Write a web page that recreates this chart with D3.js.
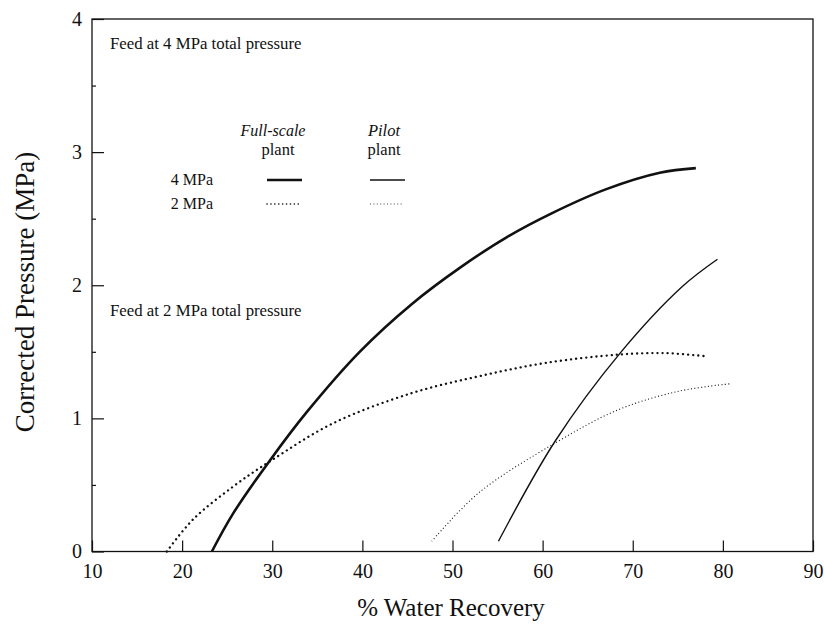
<!DOCTYPE html>
<html>
<head>
<meta charset="utf-8">
<script src="https://cdn.jsdelivr.net/npm/d3@7"></script>
<style>
  body { margin: 0; background: #fff; }
  svg text { font-family: "Liberation Serif", "Times New Roman", serif; fill: #111; }
</style>
</head>
<body>
<div class="chart_area"></div>
<script>
// values (x = % water recovery, y = corrected pressure MPa)
var full4_x = [23.3, 25.7, 29.8, 33.8, 39.7, 45.5, 51.0, 56.0, 61.0, 67.0, 73.0, 77.0];
var full4_y = [0, 0.29, 0.69, 1.045, 1.50, 1.86, 2.14, 2.36, 2.54, 2.72, 2.845, 2.88];

var full2_x = [18.3, 21.2, 25.7, 29.8, 36.8, 45.5, 52.9, 60.3, 68.4, 73.6, 78.2];
var full2_y = [0, 0.24, 0.49, 0.68, 0.965, 1.19, 1.316, 1.416, 1.479, 1.49, 1.466];

var pilot4_x = [55.1, 61.4, 68.6, 75.5, 79.4];
var pilot4_y = [0.077, 0.83, 1.49, 1.99, 2.195];

var pilot2_x = [47.7, 52.9, 61.4, 68.4, 75.1, 80.8];
var pilot2_y = [0.077, 0.44, 0.815, 1.065, 1.204, 1.26];

var x_ticks = [10, 20, 30, 40, 50, 60, 70, 80, 90];
var y_ticks = [0, 1, 2, 3, 4];
var y_minor = [0.5, 1.5, 2.5, 3.5];

var margin = {top: 19, right: 10, bottom: 74.5, left: 92},
    width = 824 - margin.left - margin.right,
    height = 626 - margin.top - margin.bottom;

var svg = d3.select(".chart_area")
  .append("svg")
  .attr("width", 824)
  .attr("height", 626)
  .append("g")
  .attr("transform", "translate(" + margin.left + "," + margin.top + ")");

var x = d3.scaleLinear().domain([10, 90]).range([0, 721]);
var y = d3.scaleLinear().domain([0, 4]).range([height, 0]);

// frame
svg.append("rect")
  .attr("x", 0).attr("y", 0)
  .attr("width", x(90)).attr("height", height)
  .attr("fill", "none").attr("stroke", "#111").attr("stroke-width", 1.3);

var xAxis = svg.append("g")
  .attr("transform", "translate(0," + height + ")")
  .call(d3.axisBottom(x).tickValues(x_ticks).tickSizeInner(-11).tickSizeOuter(0).tickPadding(12));

var yAxis = svg.append("g")
  .call(d3.axisLeft(y).tickValues(y_ticks).tickSizeInner(-12).tickSizeOuter(0).tickPadding(10).tickFormat(d3.format("d")));

var yMinor = svg.append("g")
  .call(d3.axisLeft(y).tickValues(y_minor).tickSizeInner(-4).tickSizeOuter(0).tickFormat(""));

[xAxis, yAxis, yMinor].forEach(function(a) {
  a.select(".domain").remove();
  a.selectAll("line").attr("stroke", "#111").attr("stroke-width", 1.2);
  a.selectAll("text").attr("font-size", 20).attr("font-family", "Liberation Serif").attr("fill", "#111");
});

// axis titles
svg.append("text")
  .attr("x", 451 - margin.left).attr("y", 616 - margin.top)
  .attr("text-anchor", "middle").attr("font-size", 25)
  .text("% Water Recovery");

svg.append("text")
  .attr("transform", "translate(" + (34 - margin.left) + "," + (292 - margin.top) + ") rotate(-90)")
  .attr("text-anchor", "middle").attr("font-size", 27)
  .text("Corrected Pressure (MPa)");

// curves
var line = d3.line()
  .x(function(d) { return x(d[0]); })
  .y(function(d) { return y(d[1]); })
  .curve(d3.curveCatmullRom.alpha(0.5));

var series = [
  {xs: full4_x, ys: full4_y, w: 2.6, dash: null, cap: "butt"},
  {xs: full2_x, ys: full2_y, w: 2.3, dash: "0.1 5", cap: "round"},
  {xs: pilot4_x, ys: pilot4_y, w: 1.4, dash: null, cap: "butt"},
  {xs: pilot2_x, ys: pilot2_y, w: 1.1, dash: "1 2.4", cap: "butt"}
];

series.forEach(function(s) {
  var pts = s.xs.map(function(v, i) { return [v, s.ys[i]]; });
  svg.append("path")
    .datum(pts)
    .attr("d", line)
    .attr("fill", "none")
    .attr("stroke", "#111")
    .attr("stroke-width", s.w)
    .attr("stroke-linecap", s.cap)
    .attr("stroke-dasharray", s.dash);
});

// annotations
svg.append("text").attr("x", 110 - margin.left).attr("y", 49 - margin.top)
  .attr("font-size", 16.8).text("Feed at 4 MPa total pressure");
svg.append("text").attr("x", 110 - margin.left).attr("y", 316 - margin.top)
  .attr("font-size", 16.8).text("Feed at 2 MPa total pressure");

// legend
var lg = svg.append("g").attr("transform", "translate(" + (-margin.left) + "," + (-margin.top) + ")");
lg.append("text").attr("x", 273).attr("y", 136).attr("text-anchor", "middle")
  .attr("font-size", 16).attr("font-style", "italic").text("Full-scale");
lg.append("text").attr("x", 278).attr("y", 155).attr("text-anchor", "middle")
  .attr("font-size", 16.5).text("plant");
lg.append("text").attr("x", 384).attr("y", 136).attr("text-anchor", "middle")
  .attr("font-size", 16.5).attr("font-style", "italic").text("Pilot");
lg.append("text").attr("x", 384).attr("y", 155).attr("text-anchor", "middle")
  .attr("font-size", 16.5).text("plant");
lg.append("text").attr("x", 213).attr("y", 185).attr("text-anchor", "end")
  .attr("font-size", 16).text("4 MPa");
lg.append("text").attr("x", 213).attr("y", 209).attr("text-anchor", "end")
  .attr("font-size", 16).text("2 MPa");

var legendRows = [
  {x1: 267, x2: 302, y: 180, s: series[0]},
  {x1: 370, x2: 405, y: 180, s: series[2]},
  {x1: 267, x2: 300, y: 204, s: series[1]},
  {x1: 370, x2: 404, y: 204, s: series[3]}
];
legendRows.forEach(function(r) {
  lg.append("line")
    .attr("x1", r.x1).attr("x2", r.x2).attr("y1", r.y).attr("y2", r.y)
    .attr("stroke", "#111")
    .attr("stroke-width", r.s.dash ? r.s.w * 0.7 : r.s.w)
    .attr("stroke-linecap", r.s.cap)
    .attr("stroke-dasharray", r.s.dash ? (r.s.cap === "round" ? "0.1 3.8" : "1 2.4") : null);
});
</script>
</body>
</html>
